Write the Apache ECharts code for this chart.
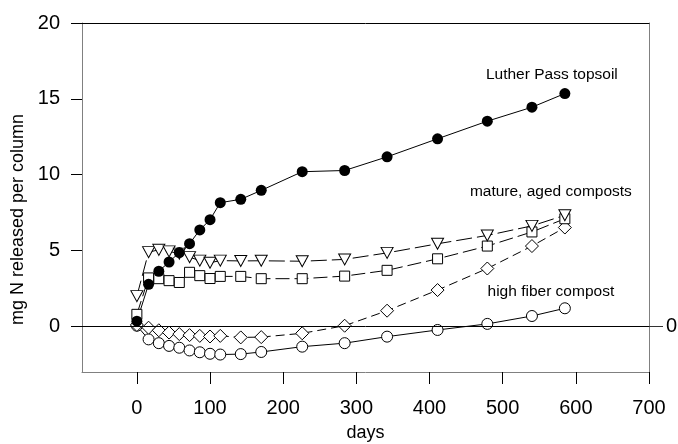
<!DOCTYPE html>
<html lang="en">
<head>
<meta charset="UTF-8">
<title>mg N released per column</title>
<script src="https://cdn.jsdelivr.net/npm/echarts@6/dist/echarts.min.js"></script>
<style>
  html, body { margin: 0; padding: 0; background: #fff; }
  #chart { width: 678px; height: 444px; }
</style>
</head>
<body>
<div id="chart"></div>
<script>
// sampling days (x)
var days = [0, 16, 30, 44, 58, 72, 86, 100, 114, 142, 170, 226, 284, 342, 411, 479, 540, 585];

// mg N released per column
var lutherPass = [0.35, 2.78, 3.64, 4.25, 4.87, 5.46, 6.36, 7.04, 8.16, 8.38, 8.97, 10.2, 10.28, 11.18, 12.37, 13.53, 14.45, 15.35];
var agedTriangle = [2.0, 4.9, 5.05, 4.95, 4.8, 4.57, 4.34, 4.2, 4.34, 4.32, 4.33, 4.3, 4.42, 4.85, 5.45, 6.0, 6.63, 7.33];
var agedSquare = [0.8, 3.2, 3.15, 3.02, 2.9, 3.57, 3.35, 3.16, 3.3, 3.3, 3.15, 3.15, 3.32, 3.7, 4.46, 5.3, 6.23, 7.1];
var agedDiamond = [0.1, -0.08, -0.25, -0.4, -0.5, -0.57, -0.62, -0.66, -0.62, -0.72, -0.7, -0.45, 0.05, 1.04, 2.4, 3.82, 5.3, 6.52];
var highFiber = [0.05, -0.85, -1.1, -1.28, -1.4, -1.58, -1.7, -1.8, -1.85, -1.82, -1.68, -1.33, -1.1, -0.67, -0.23, 0.17, 0.69, 1.2];

var xTicks = [0, 100, 200, 300, 400, 500, 600, 700];
var yTicks = [0, 5, 10, 15, 20];

var font = 'Liberation Sans, Arial, sans-serif';

// pair days with values, optional text label on the last point
function pairs(vals, text, offset) {
    return vals.map(function (v, i) {
        var item = { value: [days[i], v] };
        if (text && i === vals.length - 1) {
            item.label = {
                show: true, position: 'top', offset: offset,
                formatter: text, color: '#000', fontSize: 15.5, fontFamily: font
            };
        }
        return item;
    });
}

var openStyle = { color: '#fff', borderColor: '#000', borderWidth: 1 };
var lineBase = { color: '#000', width: 1 };

var chart = echarts.init(document.getElementById('chart'), null, { renderer: 'canvas' });

chart.setOption({
    animation: false,
    backgroundColor: '#fff',
    grid: { left: 82, right: 29, top: 23, bottom: 72, containLabel: false, outerBoundsMode: 'none' },
    xAxis: [{
        type: 'value', min: -75, max: 700, position: 'bottom',
        name: 'days', nameLocation: 'middle', nameGap: 52,
        nameTextStyle: { color: '#000', fontSize: 18, fontFamily: font },
        axisLine: { onZero: false, lineStyle: { color: '#808080', width: 1 } },
        axisTick: { show: true, customValues: xTicks, length: 12, lineStyle: { color: '#000' } },
        axisLabel: { customValues: xTicks, margin: 26, color: '#000', fontSize: 20, fontFamily: font },
        splitLine: { show: false }
    }, {
        type: 'value', min: -75, max: 700, position: 'top',
        axisLine: { show: true, onZero: false, lineStyle: { color: '#000', width: 1 } },
        axisTick: { show: false }, axisLabel: { show: false }, splitLine: { show: false }
    }],
    yAxis: [{
        type: 'value', min: -3, max: 20, position: 'left',
        name: 'mg N released per column', nameLocation: 'middle', nameGap: 48,
        nameTextStyle: { color: '#000', fontSize: 18, fontFamily: font, padding: [0, 44, 0, 0] },
        axisLine: { show: true, onZero: false, lineStyle: { color: '#808080', width: 1 } },
        axisTick: { show: true, customValues: yTicks, length: 11, lineStyle: { color: '#000' } },
        axisLabel: { customValues: yTicks, margin: 22, color: '#000', fontSize: 20, fontFamily: font },
        splitLine: { show: false }
    }, {
        type: 'value', min: -3, max: 20, position: 'right',
        axisLine: { show: true, onZero: false, lineStyle: { color: '#808080', width: 1 } },
        axisTick: { show: true, customValues: [0], length: 14, lineStyle: { color: '#333' } },
        axisLabel: { customValues: [0], margin: 17, color: '#000', fontSize: 20, fontFamily: font },
        splitLine: { show: false }
    }],
    series: [{
        name: 'high fiber compost', type: 'line',
        data: pairs(highFiber, 'high fiber compost', [-14, 2]),
        symbol: 'circle', symbolSize: 11, itemStyle: openStyle,
        lineStyle: lineBase,
        markLine: {
            silent: true, symbol: ['none', 'none'], label: { show: false },
            lineStyle: { color: '#000', type: 'solid', width: 1 },
            data: [{ yAxis: 0 }]
        }
    }, {
        name: 'diamond', type: 'line',
        data: pairs(agedDiamond),
        symbol: 'diamond', symbolSize: 13, itemStyle: openStyle,
        lineStyle: { color: '#000', width: 1, type: [9, 5] }
    }, {
        name: 'square', type: 'line',
        data: pairs(agedSquare),
        symbol: 'rect', symbolSize: 10, itemStyle: openStyle,
        lineStyle: { color: '#000', width: 1, type: [14, 5] }
    }, {
        name: 'triangle', type: 'line',
        data: pairs(agedTriangle, 'mature, aged composts', [-14, -5]),
        symbol: 'triangle', symbolRotate: 180, symbolSize: [12, 11], itemStyle: openStyle,
        lineStyle: { color: '#000', width: 1, type: [16, 5] }
    }, {
        name: 'Luther Pass topsoil', type: 'line',
        data: pairs(lutherPass, 'Luther Pass topsoil', [-13, 0]),
        symbol: 'circle', symbolSize: 11, itemStyle: { color: '#000' },
        lineStyle: lineBase
    }]
});
</script>
</body>
</html>
